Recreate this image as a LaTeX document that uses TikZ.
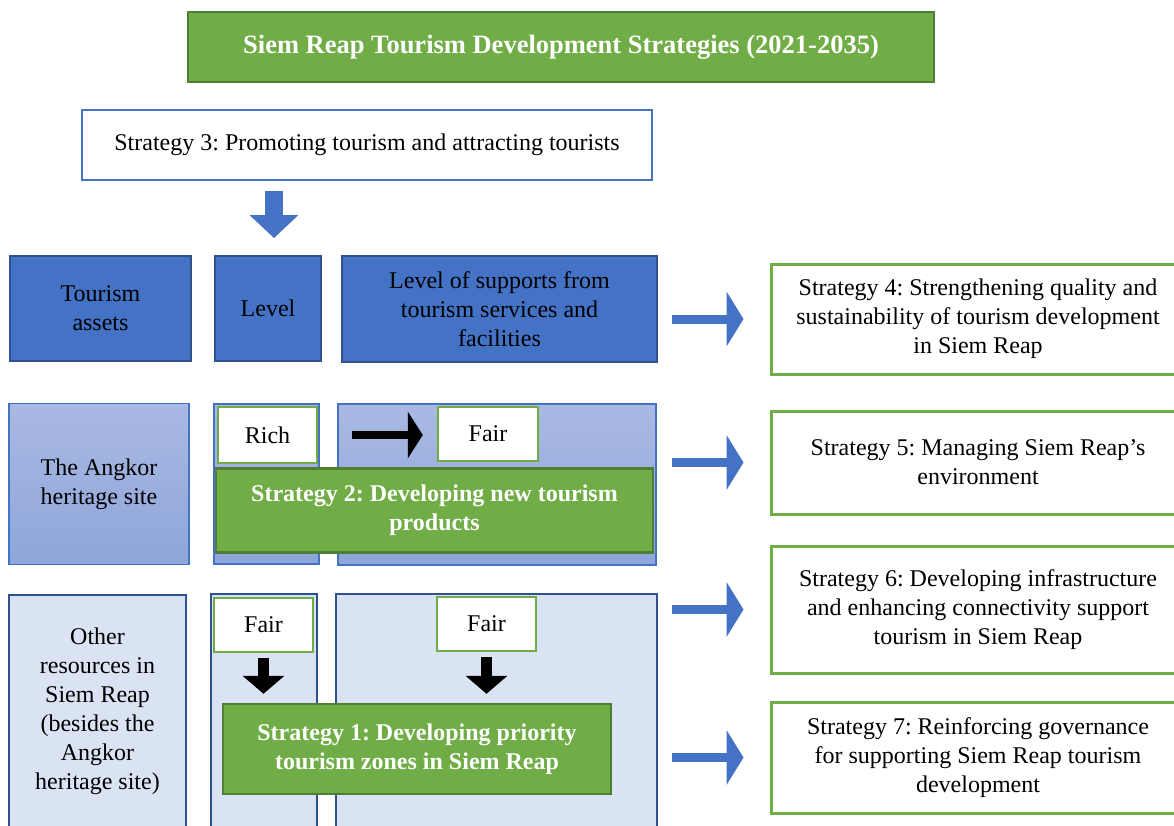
\documentclass[tikz,border=0pt]{standalone}
\usepackage{fontspec}
\setmainfont{Liberation Serif}
\usetikzlibrary{arrows.meta}
\frenchspacing

\definecolor{sgreen}{HTML}{70AD47}
\definecolor{sgreendark}{HTML}{507E32}
\definecolor{sblue}{HTML}{4472C4}
\definecolor{sbluedark}{HTML}{2F528F}
\definecolor{spale}{HTML}{DAE3F3}
\definecolor{angtop}{HTML}{AAB9E2}
\definecolor{angbot}{HTML}{8DA6DB}

\begin{document}
\begin{tikzpicture}[x=1pt,y=-1pt,
    every node/.style={inner sep=0pt,align=center,font=\fontsize{24}{29}\selectfont},
    greenbox/.style={fill=sgreen,draw=sgreendark,line width=2.5pt,text=white,font=\fontsize{24}{29}\selectfont\bfseries},
    headbox/.style={fill=sblue,draw=sbluedark,line width=2pt},
    angkorbox/.style={top color=angtop,bottom color=angbot,draw=sblue,line width=1.5pt},
    otherbox/.style={fill=spale,draw=sbluedark,line width=2pt},
    levelbox/.style={fill=white,draw=sgreen,line width=2.5pt},
    stratbox/.style={fill=white,draw=sgreen,line width=3pt},
    bluearrow/.style={draw=sblue,line width=9pt,shorten <=14pt,shorten >=26pt,
        -{Triangle[length=17pt,width=55pt,line width=0pt]}},
    bluedown/.style={draw=sblue,line width=18pt,shorten <=10pt,shorten >=17pt,
        -{Triangle[length=23pt,width=49pt,line width=0pt]}},
    blackarrow/.style={draw=black,line width=8pt,shorten <=34pt,shorten >=14pt,
        -{Triangle[length=15pt,width=47pt,line width=0pt]}},
    blackdown/.style={draw=black,line width=11pt,shorten <=5pt,shorten >=9pt,
        -{Triangle[length=18pt,width=42pt,line width=0pt]}}]
    \clip (0,0) rectangle (1174,825);

    \node[greenbox,minimum width=746pt,minimum height=70pt,font=\fontsize{26.5}{32}\selectfont\bfseries] (T) at (561,47) {Siem Reap Tourism Development Strategies (2021-2035)};
    \node[fill=white,draw=sblue,line width=2.5pt,minimum width=570pt,minimum height=70pt] (S3) at (367,145) {Strategy 3: Promoting tourism and attracting tourists};

    \node[headbox,minimum width=181pt,minimum height=105pt] (TA) at (100.5,308.5) {Tourism\\assets};
    \node[headbox,minimum width=106pt,minimum height=105pt] (Lv) at (268,308.5) {Level};
    \node[headbox,minimum width=315pt,minimum height=106pt] (LS) at (499.5,309) {Level of supports from\\tourism services and\\facilities};

    \node[angkorbox,minimum width=180pt,minimum height=161pt] (Ang) at (99,484) {The Angkor\\heritage site};
    \node[angkorbox,minimum width=105pt,minimum height=160pt] (AngL) at (266.5,484) {};
    \node[angkorbox,minimum width=318pt,minimum height=161pt] (AngS) at (497,484.5) {};
    \node[levelbox,minimum width=99pt,minimum height=56pt] (Rich) at (267.5,435) {Rich};
    \node[levelbox,minimum width=100pt,minimum height=54pt] (FairA) at (488,434) {Fair};
    \node[greenbox,minimum width=437pt,minimum height=84pt] (S2) at (434.5,510.5) {Strategy 2: Developing new tourism\\products};

    \node[otherbox,minimum width=177pt,minimum height=234pt] (Oth) at (97.5,711.5) {Other\\resources in\\Siem Reap\\(besides the\\Angkor\\heritage site)};
    \node[otherbox,minimum width=106pt,minimum height=234pt] (OthL) at (264,711) {};
    \node[otherbox,minimum width=321pt,minimum height=234pt] (OthS) at (496.5,711) {};
    \node[levelbox,minimum width=99pt,minimum height=54pt] (FairB) at (263.5,625) {Fair};
    \node[levelbox,minimum width=99pt,minimum height=54pt] (FairC) at (486.5,624) {Fair};
    \node[greenbox,minimum width=388pt,minimum height=90pt] (S1) at (417,749) {Strategy 1: Developing priority\\tourism zones in Siem Reap};

    \node[stratbox,minimum width=414pt,minimum height=110pt] (S4) at (978,319) {Strategy 4: Strengthening quality and\\sustainability of tourism development\\in Siem Reap};
    \node[stratbox,minimum width=414pt,minimum height=103pt] (S5) at (978,462.5) {Strategy 5: Managing Siem Reap’s\\environment};
    \node[stratbox,minimum width=414pt,minimum height=127pt] (S6) at (978,609.5) {Strategy 6: Developing infrastructure\\and enhancing connectivity support\\tourism in Siem Reap};
    \node[stratbox,minimum width=414pt,minimum height=111pt] (S7) at (978,757.5) {Strategy 7: Reinforcing governance\\for supporting Siem Reap tourism\\development};

    \draw[bluedown] ([xshift=6pt]Lv.north |- S3.south) -- ([xshift=6pt]Lv.north);
    \draw[blackarrow] (Rich.east) -- (Rich.east -| FairA.west);
    \draw[blackdown] (FairB.south) -- (FairB.south |- S1.north);
    \draw[blackdown] (FairC.south) -- (FairC.south |- S1.north);

    \draw[bluearrow] (LS.east |- S4.west) -- (S4.west);
    \draw[bluearrow] (LS.east |- S5.west) -- (S5.west);
    \draw[bluearrow] (LS.east |- S6.west) -- (S6.west);
    \draw[bluearrow] (LS.east |- S7.west) -- (S7.west);
\end{tikzpicture}
\end{document}
